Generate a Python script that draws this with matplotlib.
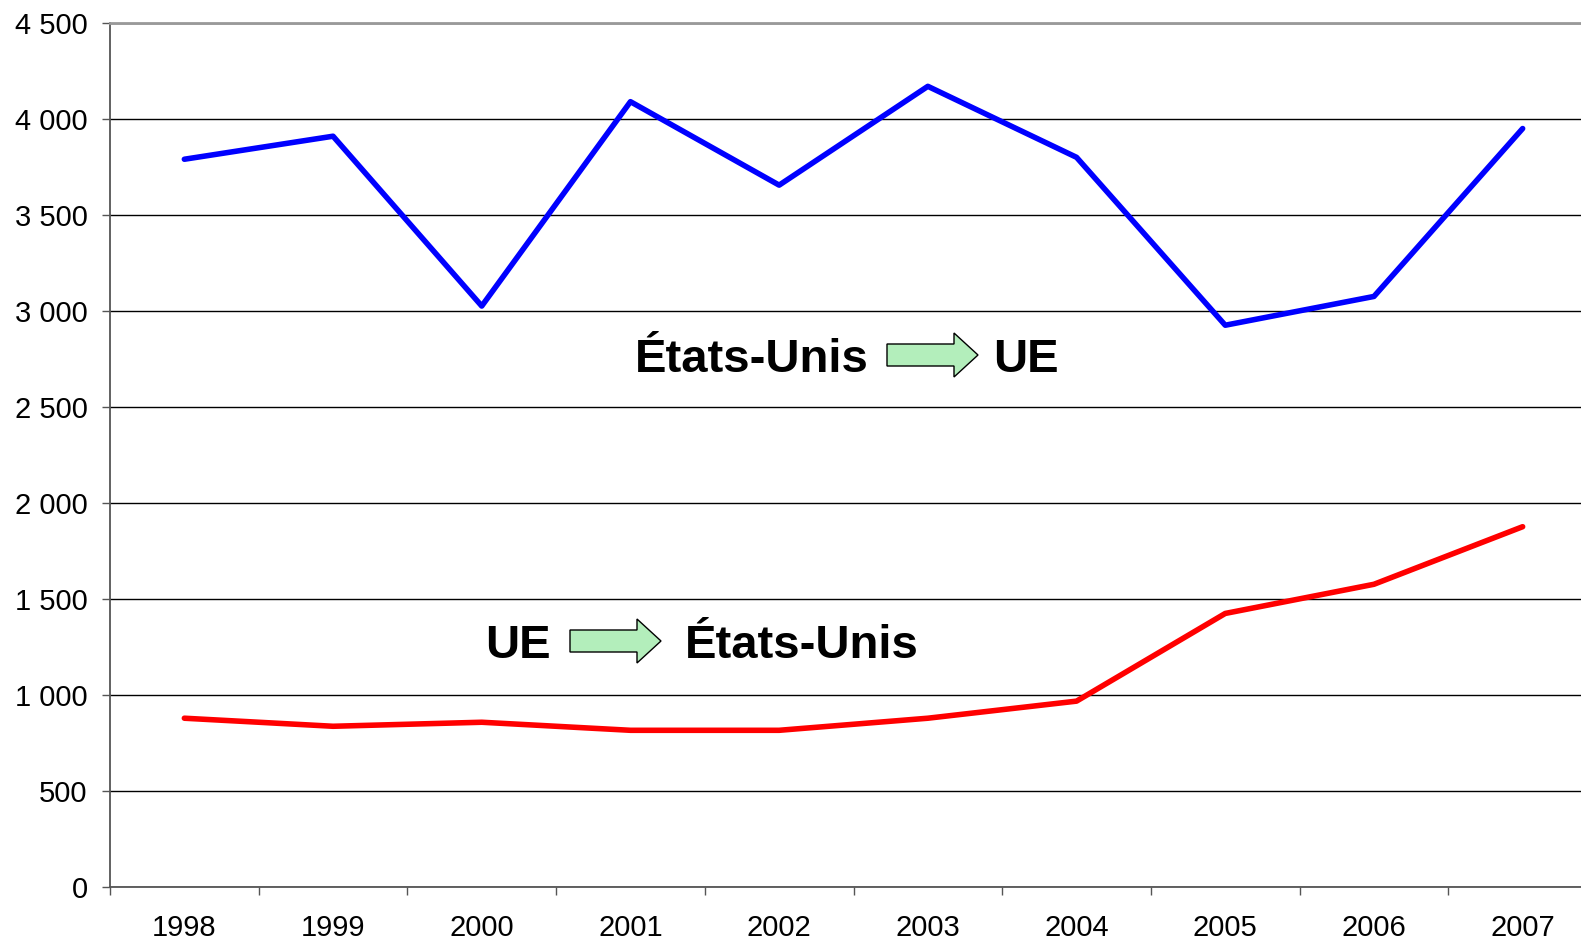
import numpy as np
import matplotlib.pyplot as plt
from matplotlib.patches import FancyArrow
from matplotlib.ticker import FuncFormatter, FixedLocator

plt.rcParams['font.family'] = ['Liberation Sans', 'DejaVu Sans']

years = ['1998', '1999', '2000', '2001', '2002', '2003', '2004', '2005', '2006', '2007']
us_to_eu = [3790, 3910, 3025, 4090, 3655, 4170, 3800, 2925, 3075, 3950]
eu_to_us = [877, 835, 856, 814, 814, 877, 966, 1423, 1575, 1875]

W, H = 1581, 941
fig = plt.figure(figsize=(W / 100, H / 100), dpi=100)
# axes run a little past the right edge of the picture, like the original
ax = fig.add_axes([110 / W, (H - 886.5) / H, (1597 - 110) / W, (886.5 - 23) / H])

x = np.arange(len(years))
ax.plot(x, us_to_eu, color='#0000ff', lw=4, solid_capstyle='round', zorder=3)
ax.plot(x, eu_to_us, color='#ff0000', lw=4, solid_capstyle='round', zorder=3)

ax.set_xlim(-0.5, len(years) - 0.5)
ax.set_ylim(0, 4500)
ax.set_yticks(np.arange(0, 4501, 500))
ax.yaxis.set_major_formatter(FuncFormatter(lambda v, p: f'{int(v):,}'.replace(',', ' ')))
ax.grid(axis='y', color='black', lw=1)
ax.set_axisbelow(True)

ax.set_xticks(x)
ax.set_xticklabels(years)
ax.xaxis.set_minor_locator(FixedLocator(np.arange(-0.5, len(years), 1)))
ax.tick_params(axis='x', which='major', length=0, pad=20, labelsize=21)
ax.tick_params(axis='x', which='minor', length=6, width=1, color='#555555', direction='out')
ax.tick_params(axis='y', length=6, width=1, color='#555555', pad=10, labelsize=21)

for s in ['left', 'bottom']:
    ax.spines[s].set_color('#555555')
    ax.spines[s].set_linewidth(1.3)
ax.spines['top'].set_color('#999999')
ax.spines['top'].set_linewidth(2)
ax.spines['right'].set_visible(False)


def px(xp, yp):
    return xp / W, 1 - yp / H


def block_arrow(x0, x1, yc):
    fx0, fy = px(x0, yc)
    fx1, _ = px(x1, yc)
    arr = FancyArrow(fx0, fy, fx1 - fx0, 0, width=22 / H, head_width=44 / H,
                     head_length=24 / W, length_includes_head=True,
                     transform=fig.transFigure, facecolor='#b3eebb',
                     edgecolor='black', lw=1)
    fig.add_artist(arr)


tkw = dict(fontsize=34, fontweight='bold', va='baseline', ha='left')
fig.text(*px(635, 372), 'États-Unis', **tkw)
block_arrow(887, 978, 355)
fig.text(*px(993, 372), 'UE', **tkw)

fig.text(*px(485, 658), 'UE', **tkw)
block_arrow(570, 661, 641)
fig.text(*px(685, 658), 'États-Unis', **tkw)

fig.savefig('out.png', dpi=100)
